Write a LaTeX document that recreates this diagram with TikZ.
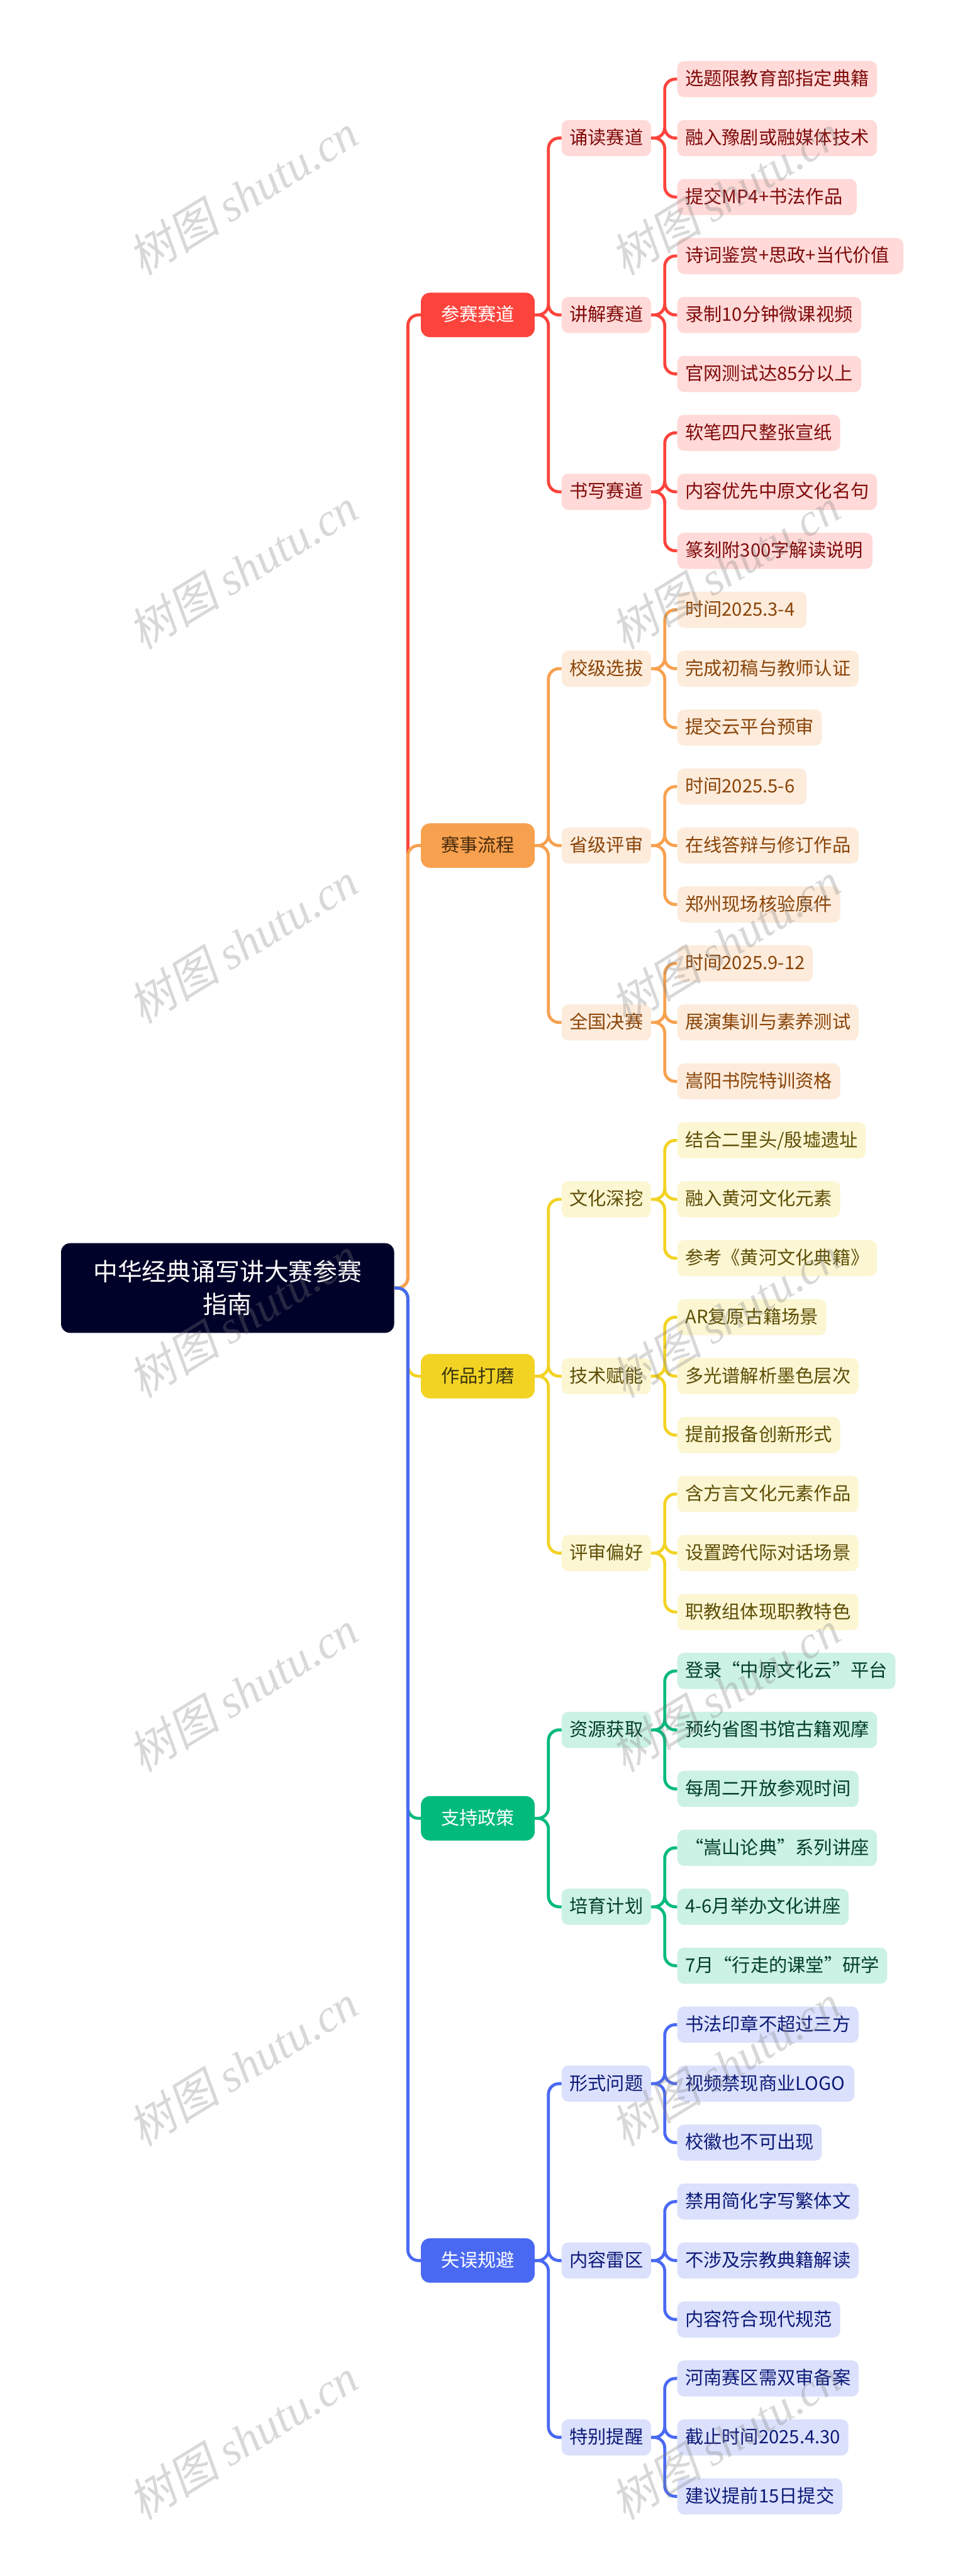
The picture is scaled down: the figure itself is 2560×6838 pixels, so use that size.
\documentclass[tikz,border=0pt]{standalone}
\usepackage{fontspec}
\setmainfont{Noto Sans CJK SC}
\newfontfamily\markcjk[FakeSlant=0.2]{Noto Sans CJK SC}
\newfontfamily\marklatin{Liberation Serif}
\usepackage{tikz}

\definecolor{rootfill}{HTML}{000229}
\definecolor{redmain}{HTML}{FC443C}
\definecolor{redsoft}{HTML}{FFDAD8}
\definecolor{redtext}{HTML}{7F0A0A}
\definecolor{orangemain}{HTML}{F7A14F}
\definecolor{orangesoft}{HTML}{FDECDC}
\definecolor{orangetext}{HTML}{8A4408}
\definecolor{orangetop}{HTML}{4A2C0C}
\definecolor{yellowmain}{HTML}{F2D324}
\definecolor{yellowsoft}{HTML}{FCF6D3}
\definecolor{yellowtext}{HTML}{5E4F06}
\definecolor{yellowtop}{HTML}{3A3410}
\definecolor{greenmain}{HTML}{02BA7C}
\definecolor{greensoft}{HTML}{CCF1E5}
\definecolor{greentext}{HTML}{003F2A}
\definecolor{bluemain}{HTML}{4A69F2}
\definecolor{bluesoft}{HTML}{DBE1FC}
\definecolor{bluetext}{HTML}{0D1A78}

\tikzset{
	txt/.style={font=\fontsize{24.4}{30}\selectfont, text height=20.5pt, text depth=3.9pt, inner ysep=0pt},
	top/.style={txt, rounded corners=12pt, minimum width=151pt, minimum height=59pt, inner xsep=0pt},
	sub/.style={txt, anchor=west, rounded corners=9pt, minimum height=48pt, inner xsep=10.5pt},
	wide/.style={text width=#1, align=left},
	redtop/.style={top, fill=redmain, text=white},
	orangetopbox/.style={top, fill=orangemain, text=orangetop},
	yellowtopbox/.style={top, fill=yellowmain, text=yellowtop},
	greentop/.style={top, fill=greenmain, text=white},
	bluetop/.style={top, fill=bluemain, text=white},
	redsub/.style={sub, fill=redsoft, text=redtext},
	orangesub/.style={sub, fill=orangesoft, text=orangetext},
	yellowsub/.style={sub, fill=yellowsoft, text=yellowtext},
	greensub/.style={sub, fill=greensoft, text=greentext},
	bluesub/.style={sub, fill=bluesoft, text=bluetext},
	elbow/.style={line width=4pt, rounded corners=14pt, to path={-- ++(36,0) |- (\tikztotarget)}},
	stamp/.style={text=gray, opacity=0.3, rotate=31.5, font=\fontsize{61}{70}\selectfont}
}

\begin{document}
\begin{tikzpicture}[x=0.5pt,y=-0.5pt]
	\useasboundingbox [fill=white] (0,0) rectangle (2560,6838);

	\node (R) at (604,3419) [fill=rootfill, text=white, rounded corners=12pt, minimum width=442pt, minimum height=119pt, align=center, font=\fontsize{32.4}{43.5}\selectfont] {中华经典诵写讲大赛参赛\\指南};

	\node (A) [redtop] at (1268,836) {参赛赛道};
	\node (B) [orangetopbox] at (1268,2244.5) {赛事流程};
	\node (C) [yellowtopbox] at (1268,3653) {作品打磨};
	\node (D) [greentop] at (1268,4826.75) {支持政策};
	\node (E) [bluetop] at (1268,6000.5) {失误规避};

	\node (A1) [redsub] at (1490,366.5) {诵读赛道};
	\node (A2) [redsub] at (1490,836) {讲解赛道};
	\node (A3) [redsub] at (1490,1305.5) {书写赛道};
	\node (B1) [orangesub] at (1490,1775) {校级选拔};
	\node (B2) [orangesub] at (1490,2244.5) {省级评审};
	\node (B3) [orangesub] at (1490,2714) {全国决赛};
	\node (C1) [yellowsub] at (1490,3183.5) {文化深挖};
	\node (C2) [yellowsub] at (1490,3653) {技术赋能};
	\node (C3) [yellowsub] at (1490,4122.5) {评审偏好};
	\node (D1) [greensub] at (1490,4592) {资源获取};
	\node (D2) [greensub] at (1490,5061.5) {培育计划};
	\node (E1) [bluesub] at (1490,5531) {形式问题};
	\node (E2) [bluesub] at (1490,6000.5) {内容雷区};
	\node (E3) [bluesub] at (1490,6470) {特别提醒};

	\node (a1) [redsub] at (1797,210) {选题限教育部指定典籍};
	\node (a2) [redsub] at (1797,366.5) {融入豫剧或融媒体技术};
	\node (a3) [redsub, wide=217pt] at (1797,523) {提交MP4+书法作品};
	\node (a4) [redsub, wide=279pt] at (1797,679.5) {诗词鉴赏+思政+当代价值};
	\node (a5) [redsub, wide=223pt] at (1797,836) {录制10分钟微课视频};
	\node (a6) [redsub, wide=223pt] at (1797,992.5) {官网测试达85分以上};
	\node (a7) [redsub] at (1797,1149) {软笔四尺整张宣纸};
	\node (a8) [redsub] at (1797,1305.5) {内容优先中原文化名句};
	\node (a9) [redsub, wide=238pt] at (1797,1462) {篆刻附300字解读说明};

	\node (b1) [orangesub, wide=150.5pt] at (1797,1618.5) {时间2025.3-4};
	\node (b2) [orangesub] at (1797,1775) {完成初稿与教师认证};
	\node (b3) [orangesub] at (1797,1931.5) {提交云平台预审};
	\node (b4) [orangesub, wide=150.5pt] at (1797,2088) {时间2025.5-6};
	\node (b5) [orangesub] at (1797,2244.5) {在线答辩与修订作品};
	\node (b6) [orangesub] at (1797,2401) {郑州现场核验原件};
	\node (b7) [orangesub] at (1797,2557.5) {时间2025.9-12};
	\node (b8) [orangesub] at (1797,2714) {展演集训与素养测试};
	\node (b9) [orangesub] at (1797,2870.5) {嵩阳书院特训资格};

	\node (c1) [yellowsub] at (1797,3027) {结合二里头/殷墟遗址};
	\node (c2) [yellowsub] at (1797,3183.5) {融入黄河文化元素};
	\node (c3) [yellowsub] at (1797,3340) {参考《黄河文化典籍》};
	\node (c4) [yellowsub] at (1797,3496.5) {AR复原古籍场景};
	\node (c5) [yellowsub] at (1797,3653) {多光谱解析墨色层次};
	\node (c6) [yellowsub] at (1797,3809.5) {提前报备创新形式};
	\node (c7) [yellowsub] at (1797,3966) {含方言文化元素作品};
	\node (c8) [yellowsub] at (1797,4122.5) {设置跨代际对话场景};
	\node (c9) [yellowsub] at (1797,4279) {职教组体现职教特色};

	\node (d1) [greensub] at (1797,4435.5) {登录“中原文化云”平台};
	\node (d2) [greensub] at (1797,4592) {预约省图书馆古籍观摩};
	\node (d3) [greensub] at (1797,4748.5) {每周二开放参观时间};
	\node (d4) [greensub] at (1797,4905) {“嵩山论典”系列讲座};
	\node (d5) [greensub] at (1797,5061.5) {4-6月举办文化讲座};
	\node (d6) [greensub] at (1797,5218) {7月“行走的课堂”研学};

	\node (e1) [bluesub] at (1797,5374.5) {书法印章不超过三方};
	\node (e2) [bluesub, wide=214pt] at (1797,5531) {视频禁现商业LOGO};
	\node (e3) [bluesub] at (1797,5687.5) {校徽也不可出现};
	\node (e4) [bluesub] at (1797,5844) {禁用简化字写繁体文};
	\node (e5) [bluesub] at (1797,6000.5) {不涉及宗教典籍解读};
	\node (e6) [bluesub] at (1797,6157) {内容符合现代规范};
	\node (e7) [bluesub] at (1797,6313.5) {河南赛区需双审备案};
	\node (e8) [bluesub] at (1797,6470) {截止时间2025.4.30};
	\node (e9) [bluesub] at (1797,6626.5) {建议提前15日提交};

	\draw [elbow, redmain] (R.east) to (A.west);
	\draw [elbow, redmain] (A.east) to (A1.west) (A.east) to (A2.west) (A.east) to (A3.west);
	\draw [elbow, redmain] (A1.east) to (a1.west) (A1.east) to (a2.west) (A1.east) to (a3.west);
	\draw [elbow, redmain] (A2.east) to (a4.west) (A2.east) to (a5.west) (A2.east) to (a6.west);
	\draw [elbow, redmain] (A3.east) to (a7.west) (A3.east) to (a8.west) (A3.east) to (a9.west);

	\draw [elbow, orangemain] (R.east) to (B.west);
	\draw [elbow, orangemain] (B.east) to (B1.west) (B.east) to (B2.west) (B.east) to (B3.west);
	\draw [elbow, orangemain] (B1.east) to (b1.west) (B1.east) to (b2.west) (B1.east) to (b3.west);
	\draw [elbow, orangemain] (B2.east) to (b4.west) (B2.east) to (b5.west) (B2.east) to (b6.west);
	\draw [elbow, orangemain] (B3.east) to (b7.west) (B3.east) to (b8.west) (B3.east) to (b9.west);

	\draw [elbow, yellowmain] (R.east) to (C.west);
	\draw [elbow, yellowmain] (C.east) to (C1.west) (C.east) to (C2.west) (C.east) to (C3.west);
	\draw [elbow, yellowmain] (C1.east) to (c1.west) (C1.east) to (c2.west) (C1.east) to (c3.west);
	\draw [elbow, yellowmain] (C2.east) to (c4.west) (C2.east) to (c5.west) (C2.east) to (c6.west);
	\draw [elbow, yellowmain] (C3.east) to (c7.west) (C3.east) to (c8.west) (C3.east) to (c9.west);

	\draw [elbow, greenmain] (R.east) to (D.west);
	\draw [elbow, greenmain] (D.east) to (D1.west) (D.east) to (D2.west);
	\draw [elbow, greenmain] (D1.east) to (d1.west) (D1.east) to (d2.west) (D1.east) to (d3.west);
	\draw [elbow, greenmain] (D2.east) to (d4.west) (D2.east) to (d5.west) (D2.east) to (d6.west);

	\draw [elbow, bluemain] (R.east) to (E.west);
	\draw [elbow, bluemain] (E.east) to (E1.west) (E.east) to (E2.west) (E.east) to (E3.west);
	\draw [elbow, bluemain] (E1.east) to (e1.west) (E1.east) to (e2.west) (E1.east) to (e3.west);
	\draw [elbow, bluemain] (E2.east) to (e4.west) (E2.east) to (e5.west) (E2.east) to (e6.west);
	\draw [elbow, bluemain] (E3.east) to (e7.west) (E3.east) to (e8.west) (E3.east) to (e9.west);

	\node (w1) [stamp] at (645,517) {\markcjk 树图 \marklatin\itshape shutu.cn};
	\node (w2) [stamp] at (1925,517) {\markcjk 树图 \marklatin\itshape shutu.cn};
	\node (w3) [stamp] at (645,1510) {\markcjk 树图 \marklatin\itshape shutu.cn};
	\node (w4) [stamp] at (1925,1510) {\markcjk 树图 \marklatin\itshape shutu.cn};
	\node (w5) [stamp] at (645,2503) {\markcjk 树图 \marklatin\itshape shutu.cn};
	\node (w6) [stamp] at (1925,2503) {\markcjk 树图 \marklatin\itshape shutu.cn};
	\node (w7) [stamp] at (645,3496) {\markcjk 树图 \marklatin\itshape shutu.cn};
	\node (w8) [stamp] at (1925,3496) {\markcjk 树图 \marklatin\itshape shutu.cn};
	\node (w9) [stamp] at (645,4489) {\markcjk 树图 \marklatin\itshape shutu.cn};
	\node (w10) [stamp] at (1925,4489) {\markcjk 树图 \marklatin\itshape shutu.cn};
	\node (w11) [stamp] at (645,5482) {\markcjk 树图 \marklatin\itshape shutu.cn};
	\node (w12) [stamp] at (1925,5482) {\markcjk 树图 \marklatin\itshape shutu.cn};
	\node (w13) [stamp] at (645,6475) {\markcjk 树图 \marklatin\itshape shutu.cn};
	\node (w14) [stamp] at (1925,6475) {\markcjk 树图 \marklatin\itshape shutu.cn};
\end{tikzpicture}
\end{document}
